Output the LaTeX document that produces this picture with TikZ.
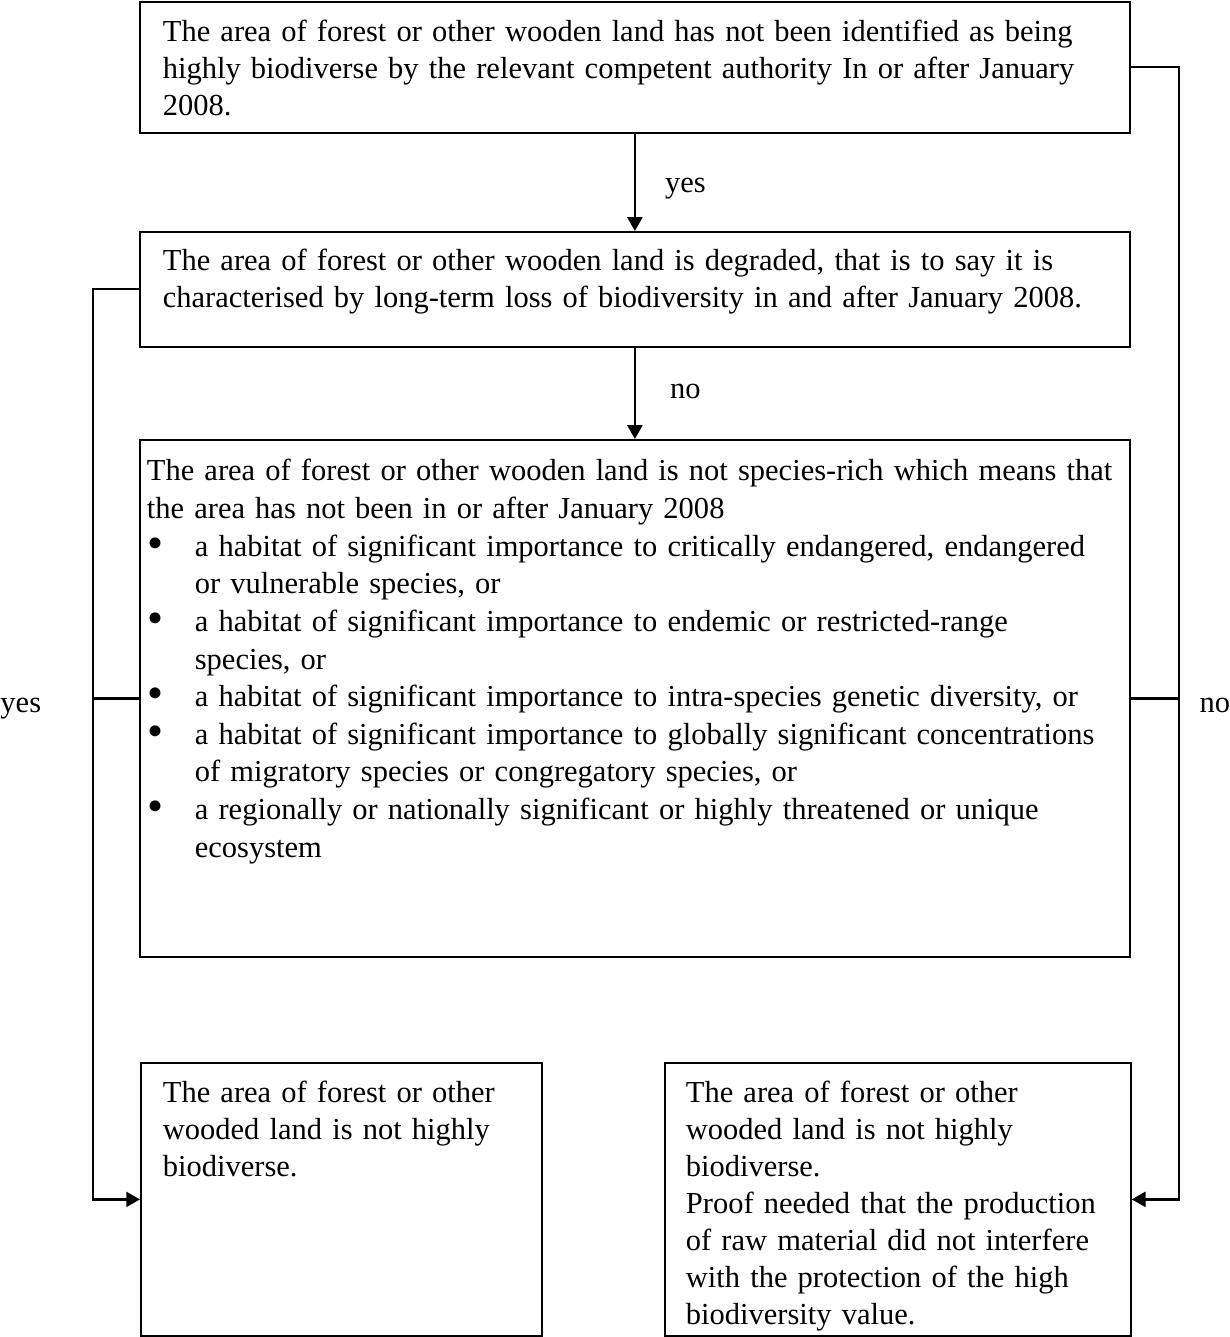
\documentclass[tikz,border=0pt]{standalone}
\usepackage{fontspec}
\setmainfont{Liberation Serif}
\usepackage{tikz}
\usetikzlibrary{arrows.meta}

\tikzset{
  stepbox/.style={draw, line width=0.7pt, anchor=north west, align=left, inner sep=0pt,
    font=\fontsize{12.2}{14.8}\selectfont},
  pad/.style={execute at begin node={\leftskip=#1\relax}},
  conn/.style={line width=0.9pt, -{Triangle[length=5.5pt,width=6pt]}},
  plain/.style={line width=0.9pt},
  lbl/.style={font=\fontsize{12.2}{14.9}\selectfont, inner sep=0pt, anchor=base west}
}
\newcommand{\bul}{\makebox[19.2pt][l]{\hspace{0.4pt}\raisebox{-0.9pt}{\scalebox{1.5}{\textbullet}}}}
\newcommand{\ind}{\hspace*{19.2pt}}

\begin{document}
\begin{tikzpicture}[x=0.4pt, y=-0.4pt]
  \useasboundingbox (0,0) rectangle (1230,1337);

  \node[stepbox, pad=9.2pt, text width=396pt, text height=16pt, text depth=36.4pt] (ident) at (139,1)
    {The area of forest or other wooden land has not been identified as being\\
     highly biodiverse by the relevant competent authority In or after January\\
     2008.};
  \node[stepbox, pad=9.2pt, text width=396pt, text height=15.6pt, text depth=30.4pt] (degr) at (139,231)
    {The area of forest or other wooden land is degraded, that is to say it is\\
     characterised by long-term loss of biodiversity in and after January 2008.};
  \node[stepbox, pad=2.8pt, text width=396pt, text height=16.4pt, text depth=190.4pt,
        font=\fontsize{12.2}{15.05}\selectfont] (rich) at (139,439)
    {The area of forest or other wooden land is not species-rich which means that\\
     the area has not been in or after January 2008\\
     \bul a habitat of significant importance to critically endangered, endangered\\
     \ind or vulnerable species, or\\
     \bul a habitat of significant importance to endemic or restricted-range\\
     \ind species, or\\
     \bul a habitat of significant importance to intra-species genetic diversity, or\\
     \bul a habitat of significant importance to globally significant concentrations\\
     \ind of migratory species or congregatory species, or\\
     \bul a regionally or nationally significant or highly threatened or unique\\
     \ind ecosystem};
  \node[stepbox, pad=8.8pt, text width=160.4pt, text height=16pt, text depth=93.2pt] (notbio) at (140,1062)
    {The area of forest or other\\
     wooded land is not highly\\
     biodiverse.};
  \node[stepbox, pad=8.4pt, text width=186.4pt, text height=16pt, text depth=93.2pt] (proof) at (664,1062)
    {The area of forest or other\\
     wooded land is not highly\\
     biodiverse.\\
     Proof needed that the production\\
     of raw material did not interfere\\
     with the protection of the high\\
     biodiversity value.};

  \draw[conn] (ident.south) -- node[lbl, xshift=11.6pt, yshift=-4.2pt] {yes} (degr.north);
  \draw[conn] (degr.south) -- node[lbl, xshift=13.6pt, yshift=-2.2pt] {no} (rich.north);

  \draw[conn] (degr.west) -- ++(-46,0) |- (notbio.west);
  \draw[conn] (ident.east) -- ++(48,0) |- (proof.east);
  \draw[plain] (rich.west) -- ++(-46,0);
  \draw[plain] (rich.east) -- ++(48,0);

  \node[lbl] (yeslbl) at (0,712) {yes};
  \node[lbl] (nolbl) at (1199,712) {no};
\end{tikzpicture}
\end{document}
